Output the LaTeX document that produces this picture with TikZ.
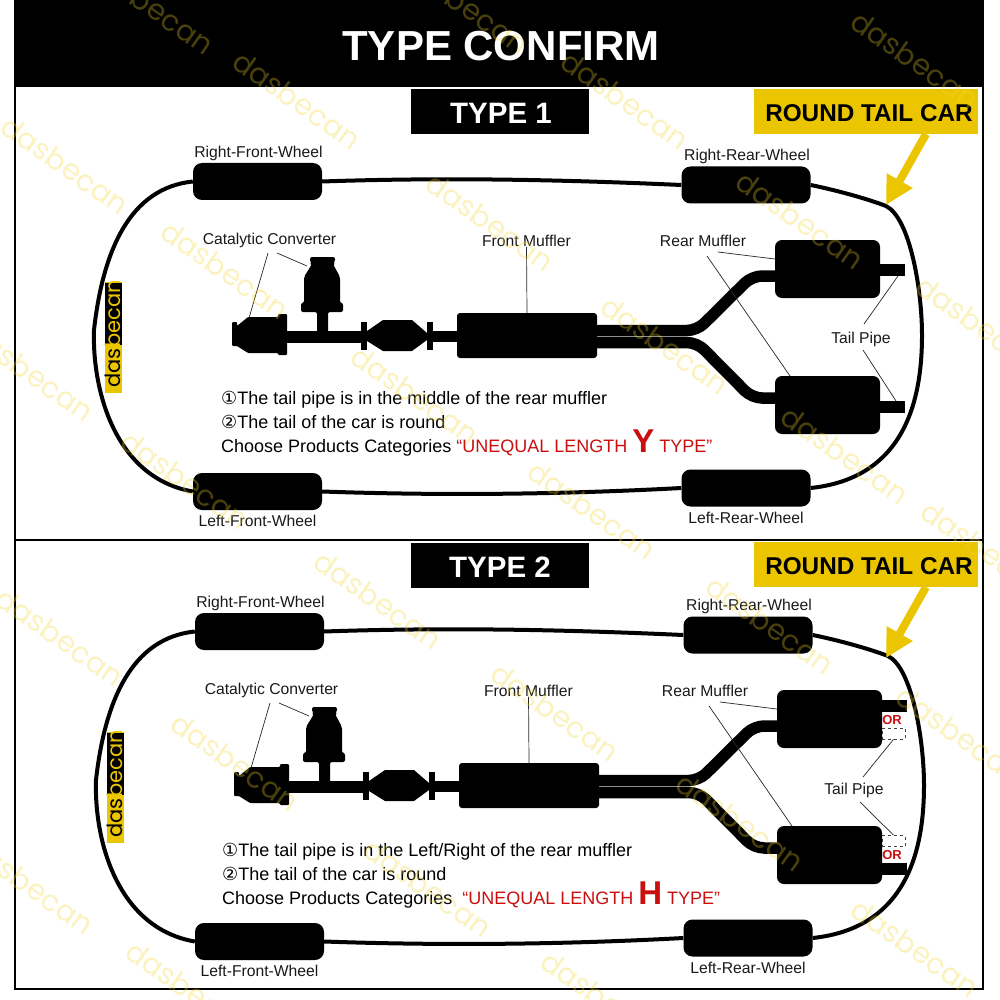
\documentclass[tikz,border=0pt]{standalone}
\usepackage{fontspec}
\setmainfont{Liberation Sans}
\newfontfamily\symfont{DejaVu Sans}
\newfontfamily\markfont{Poppins}
\usepackage{xcolor}
\usetikzlibrary{arrows.meta, positioning}
\definecolor{banner}{HTML}{EBC600}
\definecolor{mark}{HTML}{F2D52E}
\definecolor{redtxt}{HTML}{C8100F}

\begin{document}
\begin{tikzpicture}[
    x=1pt, y=-1pt,
    title/.style={font=\fontsize{42}{44}\bfseries\selectfont, text=white},
    typebox/.style={rectangle, fill=black, text=white, minimum width=178pt, minimum height=45pt, inner sep=0pt, font=\fontsize{29.5}{32}\bfseries\selectfont},
    roundbox/.style={rectangle, fill=banner, text=black, minimum width=224pt, minimum height=45pt, inner sep=0pt, font=\fontsize{24.3}{28}\bfseries\selectfont},
    wheelbox/.style={rectangle, fill=black, rounded corners=9pt, minimum width=129pt, minimum height=37pt, inner sep=0pt},
    mufflerbox/.style={rectangle, fill=black, rounded corners=7pt, minimum width=105pt, minimum height=58pt, inner sep=0pt},
    frontbox/.style={rectangle, fill=black, rounded corners=3pt, minimum width=140pt, minimum height=45pt, inner sep=0pt},
    tailbox/.style={rectangle, fill=black, minimum width=25pt, minimum height=12pt, inner sep=0pt},
    dashbox/.style={rectangle, draw=black!75, dashed, line width=.7pt, minimum width=23pt, minimum height=11pt, inner sep=0pt},
    lbl/.style={font=\fontsize{15.7}{17}\selectfont, text=black!90, inner sep=0pt},
    info/.style={font=\fontsize{18}{20}\selectfont, anchor=base west, inner sep=0pt},
    ortxt/.style={font=\fontsize{13}{14}\bfseries\selectfont, text=redtxt, inner sep=0pt},
    body/.style={line width=4pt},
    pipe/.style={line width=11.5pt, rounded corners=10pt},
    leader/.style={line width=.7pt, black!85},
    pointer/.style={-{Triangle[length=28pt,width=28pt]}, line width=8pt, banner}
]
\useasboundingbox (0,0) rectangle (1000,1000);

% frame
\fill[black] (14,0) rectangle (984,87);
\draw[line width=2pt] (15,87) -- (15,989) -- (983,989) -- (983,87);
\draw[line width=2.5pt] (15,540) -- (983,540);
\node[title] (head) at (501,46) {TYPE CONFIRM};

% both cars
\foreach \p/\dx/\dy in {a/0/0,b/2/450} {
\begin{scope}[shift={(\dx,\dy)}]
\node[wheelbox] (\p rfw) at (257.5,181.5) {};
\node[wheelbox] (\p rrw) at (746,185) {};
\node[wheelbox] (\p lfw) at (257.5,491.5) {};
\node[wheelbox] (\p lrw) at (746,488) {};
\node[lbl, above=2pt of \p rfw, xshift=1pt] (\p rfwl) {Right-Front-Wheel};
\node[lbl, above=2pt of \p rrw, xshift=1pt] (\p rrwl) {Right-Rear-Wheel};
\node[lbl, below=5pt of \p lfw] (\p lfwl) {Left-Front-Wheel};
\node[lbl, below=5pt of \p lrw] (\p lrwl) {Left-Rear-Wheel};

\draw[body] (\p rfw.east) .. controls (450,177) and (570,180) .. (\p rrw.west);
\draw[body] (\p lfw.east) .. controls (450,496) and (570,494) .. (\p lrw.west);
\draw[body] (\p rfw.west) .. controls (130,188) and (103,250) .. (94,330)
    .. controls (92,390) and (115,478) .. (\p lfw.west);
\draw[body] (\p rrw.east) .. controls (835,190) and (865,198) .. (886,206)
    .. controls (910,218) and (922,290) .. (922,335)
    .. controls (922,400) and (905,478) .. (\p lrw.east);

% logo
\fill[banner] (105,282) rectangle (122,393);
\fill[black] (105,283) rectangle (122,345);
\node[rotate=90, text=black, inner sep=0pt, font=\markfont\fontsize{21}{22}\selectfont] (\p logoa) at (112.5,368) {das};
\node[rotate=90, text=banner, inner sep=0pt, font=\markfont\fontsize{21}{22}\selectfont] (\p logob) at (112.5,314) {becan};

% exhaust
\fill[rounded corners=1pt] (232,322) -- (237,322) -- (237,326) -- (248,317) -- (278,317) -- (278,314) -- (287,314) -- (287,355)
    -- (278,355) -- (278,353) -- (248,353) -- (237,346) -- (232,346) -- cycle;
\fill[rounded corners=2pt] (310,257) -- (335,257) -- (335,262) -- (333,264) -- (340,277) -- (340,303) -- (343,303) -- (343,312)
    -- (328,312) -- (328,335) -- (317,335) -- (317,312) -- (301,312) -- (301,303) -- (304,303) -- (304,277) -- (312,264) -- (310,262) -- cycle;
\fill (287,331) rectangle (361,343);
\fill (361,322) rectangle (367,350);
\fill (367,331) -- (383,320) -- (412,320) -- (427,333) -- (427,340) -- (412,351) -- (383,351) -- (367,341) -- cycle;
\fill (427,322) rectangle (433,350);
\fill (433,331) rectangle (457,342);

\node[frontbox] (\p front) at (527,335.5) {};
\node[mufflerbox] (\p rmu) at (827.5,269) {};
\node[mufflerbox] (\p rmd) at (827.5,405) {};
\coordinate (\p fu) at (590,330.5);
\coordinate (\p fd) at (590,342.5);
\draw[pipe] (\p fu) -- (697,330.5) -- (752,276) -- (\p rmu.west |- 0,276);
\draw[pipe] (\p fd) -- (697,342.5) -- (752,398) -- (\p rmd.west |- 0,398);

% labels
\node[lbl] (\p cat) at (269.5,240) {Catalytic Converter};
\node[lbl] (\p frl) at (526.5,241) {Front Muffler};
\node[lbl] (\p rel) at (703,241) {Rear Muffler};
\coordinate (\p catl) at (249,318);
\coordinate (\p catr) at (307,266);
\draw[leader] (268,253) -- (\p catl);
\draw[leader] (277,253) -- (\p catr);
\draw[leader] (\p frl.south) -- (\p front.north);
\draw[leader] (718,252) -- (\p rmu.west |- 0,259);
\draw[leader] (707,256) -- (790,376);
\end{scope}
}

% banners, they keep their own place on the lower car
\node[typebox] (atype) at (500,111.5) {\hspace{2pt}\raisebox{-12pt}[0pt][0pt]{TYPE 1}};
\node[typebox] (btype) at (500,565) {\raisebox{-12pt}[0pt][0pt]{TYPE 2}};
\node[roundbox] (around) at (866,111.5) {\hspace{6pt}\raisebox{-10pt}[0pt][0pt]{ROUND TAIL CAR}};
\node[roundbox] (bround) at (866,564.5) {\hspace{6pt}\raisebox{-10pt}[0pt][0pt]{ROUND TAIL CAR}};
\coordinate (atip) at (886,205);
\coordinate (btip) at (886,658);
\coordinate (atail) at (926,134);
\coordinate (btail) at (926,587);
\draw[pointer] (atail) -- (atip);
\draw[pointer] (btail) -- (btip);

% tail pipes, first car
\node[tailbox] (atu) at (892.5,270) {};
\node[tailbox] (atd) at (892.5,406.5) {};
\node[lbl] (atl) at (861,339) {Tail Pipe};
\coordinate (atua) at (898,276);
\coordinate (atda) at (896,401);
\draw[leader] (864,324) -- (atua);
\draw[leader] (863,350) -- (atda);

% tail pipes, second car
\node[tailbox] (btu) at (894.5,706) {};
\node[tailbox] (btd) at (894.5,869) {};
\node[dashbox] (bdu) at (893.5,733.5) {};
\node[dashbox] (bdd) at (893.5,841) {};
\node[ortxt] (boru) at (892,720) {OR};
\node[ortxt] (bord) at (892,855) {OR};
\node[lbl] (btl) at (854,790) {Tail Pipe};
\draw[leader] (863,777) -- (bdu.south);
\draw[leader] (860,802) -- (bdd.north);

% notes
\node[info] (ana) at (221,404) {{\symfont ①}The tail pipe is in the middle of the rear muffler};
\node[info] (anb) at (221,428) {{\symfont ②}The tail of the car is round};
\node[info] (anc) at (221,452) {Choose Products Categories \textcolor{redtxt}{“UNEQUAL LENGTH {\fontsize{33}{30}\bfseries\selectfont Y} TYPE”}};
\node[info] (bna) at (222,856) {{\symfont ①}The tail pipe is in the Left/Right of the rear muffler};
\node[info] (bnb) at (222,880) {{\symfont ②}The tail of the car is round};
\node[info] (bnc) at (222,904) {Choose Products Categories \ \textcolor{redtxt}{“UNEQUAL LENGTH {\fontsize{33}{30}\bfseries\selectfont H} TYPE”}};

% watermarks
\foreach \wx/\wy in {150/5,465/5,297/100,625/100,915/60,65/165,490/222,800/220,225/270,980/325,30/372,415/395,665/345,845/455,185/480,592/510,985/550,378/600,770/625,60/637,555/712,235/762,960/735,428/888,740/822,30/885,915/948,605/1000,190/990}
    \node[rotate=-35, text=mark, opacity=.3, inner sep=0pt, font=\markfont\fontsize{29}{30}\selectfont] at (\wx,\wy) {dasbecan};
\end{tikzpicture}
\end{document}
